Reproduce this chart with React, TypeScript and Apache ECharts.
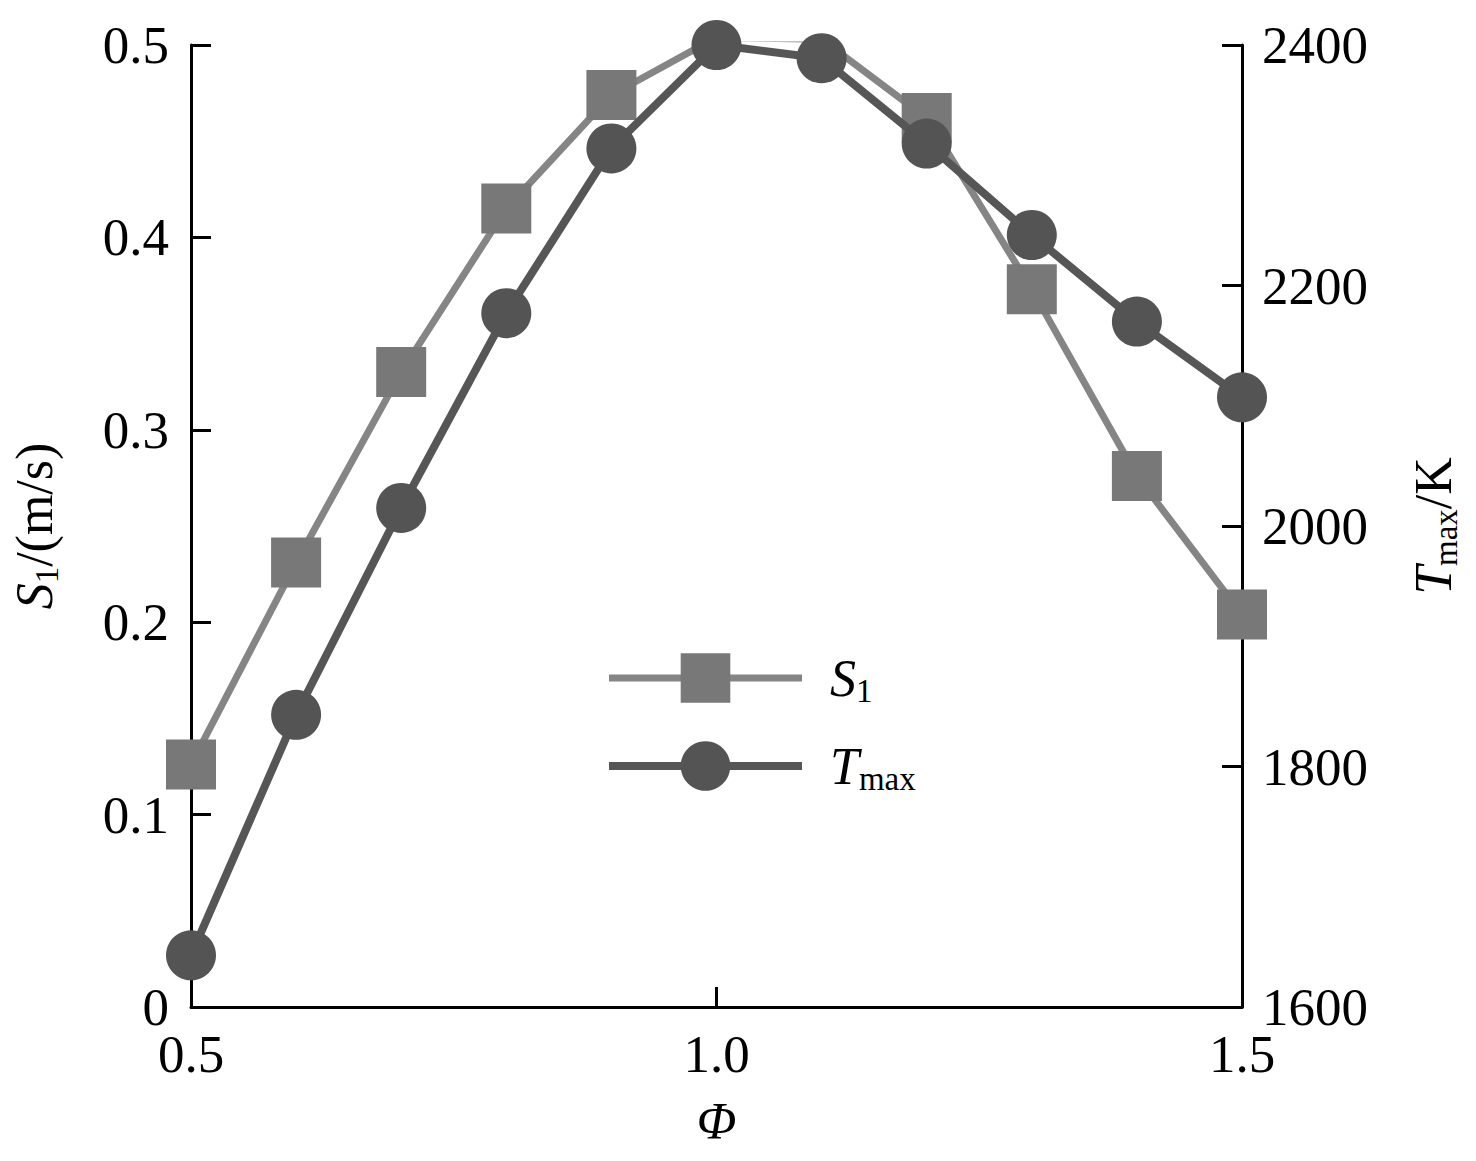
import React, { useEffect, useRef } from "react";
import * as echarts from "echarts";

const phi = [0.5, 0.6, 0.7, 0.8, 0.9, 1.0, 1.1, 1.2, 1.3, 1.4, 1.5];
const s1 = [0.126, 0.231, 0.330, 0.415, 0.474, 0.504, 0.503, 0.462, 0.373, 0.276, 0.204];
const tmax = [1643, 1843, 2015, 2177, 2314, 2400, 2389, 2318, 2242, 2170, 2107];
const xTicks = [0.5, 1.0, 1.5];

const FONT = "Liberation Serif";
const S1_LINE = "#858585";
const S1_MARK = "#787878";
const T_LINE = "#565656";
const T_MARK = "#545454";

export default function App() {
  const ref = useRef<HTMLDivElement>(null);
  useEffect(() => {
    if (!ref.current) return;
    const chart = echarts.init(ref.current, undefined, { renderer: "svg" });
    const axisLine = { show: true, lineStyle: { color: "#000", width: 3 } };
    const axisTick = { show: true, inside: true, length: 20, lineStyle: { color: "#000", width: 3 } };
    const labelStyle = { color: "#000", fontFamily: FONT, fontSize: 53 };
    const rich = {
      i: { fontFamily: FONT, fontSize: 52, fontStyle: "italic", color: "#000", lineHeight: 58 },
      n: { fontFamily: FONT, fontSize: 52, color: "#000", lineHeight: 58 },
      s: { fontFamily: FONT, fontSize: 33, color: "#000", verticalAlign: "bottom", lineHeight: 40 },
    };
    chart.setOption({
      animation: false,
      backgroundColor: "#fff",
      grid: { left: 182, right: 234, top: 45, bottom: 154, containLabel: false },
      legend: {
        orient: "vertical",
        left: 600,
        top: 647,
        itemWidth: 193,
        itemHeight: 62,
        itemGap: 33,
        data: [
          { name: "S1", lineStyle: { width: 7, color: S1_LINE }, itemStyle: { color: S1_MARK } },
          { name: "Tmax", lineStyle: { width: 8, color: T_LINE }, itemStyle: { color: T_MARK } },
        ],
        formatter: (name: string) => (name === "S1" ? "{i|S}{s|1}" : "{i|T}{s|max}"),
        textStyle: { padding: [0, 0, 0, 23], rich },
      },
      xAxis: {
        type: "value",
        min: 0.5,
        max: 1.5,
        interval: 0.5,
        name: "Φ",
        nameLocation: "middle",
        nameGap: 88,
        nameTextStyle: { fontFamily: FONT, fontSize: 52, fontStyle: "italic", color: "#000" },
        axisLine,
        axisTick,
        splitLine: { show: false },
        axisLabel: {
          ...labelStyle,
          margin: 20,
          formatter: (v: number) => (xTicks.includes(v) ? v.toFixed(1) : ""),
        },
      },
      yAxis: [
        {
          type: "value",
          min: 0,
          max: 0.5,
          interval: 0.1,
          position: "left",
          name: "{i|S}{s|1}{n|/(m/s)}",
          nameLocation: "middle",
          nameRotate: 90,
          nameGap: 128,
          nameTextStyle: { rich },
          axisLine,
          axisTick,
          splitLine: { show: false },
          axisLabel: {
            ...labelStyle,
            margin: 22,
            formatter: (v: number) => (v === 0 ? "0" : v.toFixed(1)),
          },
        },
        {
          type: "value",
          min: 1600,
          max: 2400,
          interval: 200,
          position: "right",
          name: "{i|T}{s|max}{n|/K}",
          nameLocation: "middle",
          nameRotate: 90,
          nameGap: 162,
          nameTextStyle: { rich },
          axisLine,
          axisTick,
          splitLine: { show: false },
          axisLabel: { ...labelStyle, margin: 20, formatter: (v: number) => String(v) },
        },
      ],
      series: [
        {
          name: "S1",
          type: "line",
          yAxisIndex: 0,
          data: phi.map((x, i) => [x, s1[i]]),
          symbol: "rect",
          symbolSize: 50,
          lineStyle: { color: S1_LINE, width: 7 },
          itemStyle: { color: S1_MARK },
          z: 2,
        },
        {
          name: "Tmax",
          type: "line",
          yAxisIndex: 1,
          data: phi.map((x, i) => [x, tmax[i]]),
          symbol: "circle",
          symbolSize: 50,
          lineStyle: { color: T_LINE, width: 8 },
          itemStyle: { color: T_MARK },
          z: 3,
        },
      ],
    });
    return () => chart.dispose();
  }, []);
  return (
    <div
      ref={ref}
      style={{ position: "fixed", left: 0, top: 0, width: 1476, height: 1161, background: "#fff" }}
    />
  );
}
